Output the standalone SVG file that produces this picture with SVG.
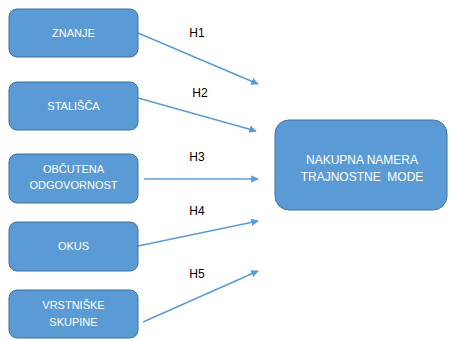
<svg xmlns="http://www.w3.org/2000/svg" width="449" height="340" viewBox="0 0 449 340">
<defs>
<style>
.box{fill:#5B9BD5;stroke:#41719C;stroke-width:1}
.t{font-family:"Liberation Sans",Arial,sans-serif;font-size:11px;fill:#fff;text-anchor:middle}
.lbl{font-family:"Liberation Sans",Arial,sans-serif;font-size:12px;fill:#000;text-anchor:middle}
.c{stroke:#5B9BD5;stroke-width:1.5;fill:none;marker-end:url(#ah)}
</style>
<marker id="ah" viewBox="0 0 10 10" refX="9" refY="5" markerWidth="5" markerHeight="5" orient="auto">
<path d="M0,0 L10,5 L0,10 z" fill="#5B9BD5"/>
</marker>
</defs>
<rect width="449" height="340" fill="#fff"/>
<g id="connectors">
<line class="c" x1="138" y1="33" x2="258" y2="84"/>
<line class="c" x1="138" y1="98" x2="256" y2="131"/>
<line class="c" x1="144" y1="179" x2="258" y2="179"/>
<line class="c" x1="138" y1="246" x2="258" y2="221"/>
<line class="c" x1="143" y1="322" x2="258" y2="271"/>
<text class="lbl" x="197" y="37">H1</text>
<text class="lbl" x="200" y="97">H2</text>
<text class="lbl" x="197" y="161">H3</text>
<text class="lbl" x="197" y="215">H4</text>
<text class="lbl" x="197" y="278">H5</text>
</g>
<g id="n1"><rect class="box" x="9" y="9" width="129" height="48" rx="8"/><text class="t" x="73.5" y="37">ZNANJE</text></g>
<g id="n2"><rect class="box" x="9" y="82" width="129" height="48" rx="8"/><text class="t" x="73.5" y="110">STALIŠČA</text></g>
<g id="n3"><rect class="box" x="9" y="154" width="129" height="49" rx="8"/><text class="t" x="73.5" y="173">OBČUTENA</text><text class="t" x="73.5" y="189">ODGOVORNOST</text></g>
<g id="n4"><rect class="box" x="9" y="222" width="129" height="49" rx="8"/><text class="t" x="73.5" y="250">OKUS</text></g>
<g id="n5"><rect class="box" x="9" y="290" width="129" height="48" rx="8"/><text class="t" x="73.5" y="309">VRSTNIŠKE</text><text class="t" x="73.5" y="326">SKUPINE</text></g>
<g id="n6"><rect class="box" x="275" y="120" width="172" height="90" rx="14"/><text class="t" x="362" y="164" style="font-size:12px">NAKUPNA NAMERA</text><text class="t" x="362" y="181" style="font-size:12px;white-space:pre">TRAJNOSTNE  MODE</text></g>
</svg>
